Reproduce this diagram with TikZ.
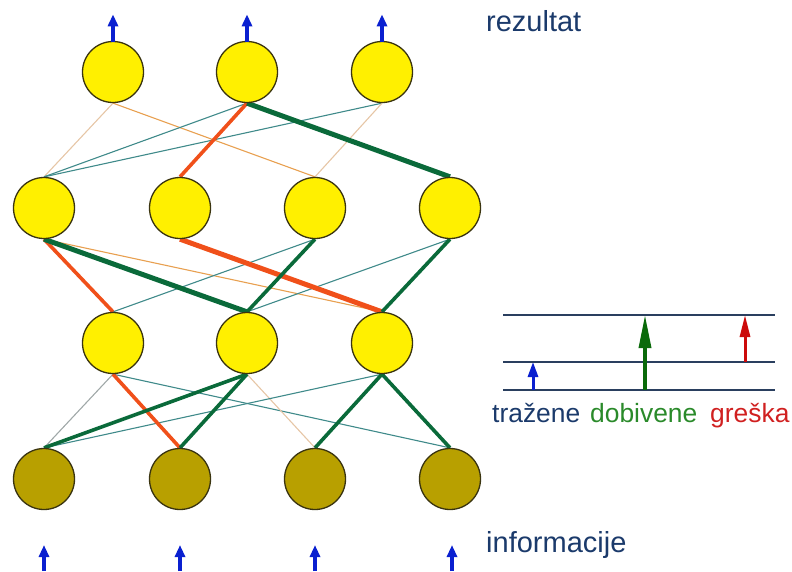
\documentclass[tikz,border=0pt]{standalone}
\usepackage{fontspec}
\setmainfont{Liberation Sans}
\usetikzlibrary{arrows.meta,backgrounds}

\definecolor{cellyellow}{HTML}{FFF000}
\definecolor{cellolive}{HTML}{B8A000}
\definecolor{cellrim}{HTML}{3A3410}
\definecolor{wred}{HTML}{F0501A}
\definecolor{wgreen}{HTML}{0A6A3A}
\definecolor{wteal}{HTML}{3F8A8A}
\definecolor{wtan}{HTML}{E6C6A6}
\definecolor{worange}{HTML}{E8A050}
\definecolor{wgrey}{HTML}{A0A8A8}
\definecolor{navy}{HTML}{1B3A6B}
\definecolor{rule}{HTML}{2A3F5F}
\definecolor{legblue}{HTML}{0A20D0}
\definecolor{leggreen}{HTML}{0A6A0A}
\definecolor{legred}{HTML}{CC0A0A}
\definecolor{txtgreen}{HTML}{2A8A2A}
\definecolor{txtred}{HTML}{D02020}

\tikzset{
  neuron/.style={circle, minimum size=61pt, inner sep=0pt, draw=cellrim, line width=1.3pt, fill=cellyellow},
  inneuron/.style={neuron, fill=cellolive},
  thin/.style={line width=1.1pt},
  midw/.style={line width=3.6pt},
  bigw/.style={line width=5pt},
  signal/.style={draw=legblue, line width=3.6pt, -{Triangle[length=12pt,width=10pt]}},
  label/.style={text=navy, font=\fontsize{29}{32}\selectfont, anchor=base west, inner sep=0pt},
  legtext/.style={font=\fontsize{26.4}{30}\selectfont, anchor=base west, inner sep=0pt},
  level/.style={draw=rule, line width=1.1pt},
}

\begin{document}
\begin{tikzpicture}[x=1pt, y=-1pt]
\useasboundingbox (0,0) rectangle (792,571);

% output layer
\node[neuron] (T1) at (113,72) {};
\node[neuron] (T2) at (247,72) {};
\node[neuron] (T3) at (382,72) {};
% first hidden layer
\node[neuron] (H1) at (44,208) {};
\node[neuron] (H2) at (180,208) {};
\node[neuron] (H3) at (315,208) {};
\node[neuron] (H4) at (450,208) {};
% second hidden layer
\node[neuron] (M1) at (113,343) {};
\node[neuron] (M2) at (247,343) {};
\node[neuron] (M3) at (382,343) {};
% input layer
\node[inneuron] (B1) at (44,479) {};
\node[inneuron] (B2) at (180,479) {};
\node[inneuron] (B3) at (315,479) {};
\node[inneuron] (B4) at (450,479) {};

\begin{scope}[on background layer]
  % output <- first hidden
  \draw[thin, wtan]    (T1.south) -- (H1.north);
  \draw[thin, worange] (T1.south) -- (H3.north);
  \draw[thin, wteal]   (T2.south) -- (H1.north);
  \draw[thin, wteal]   (T3.south) -- (H1.north);
  \draw[thin, wtan]    (T3.south) -- (H3.north);
  \draw[midw, wred]    (T2.south) -- (H2.north);
  \draw[bigw, wgreen]  (T2.south) -- (H4.north);
  % first hidden <- second hidden
  \draw[thin, worange] (H1.south) -- (M3.north);
  \draw[thin, wteal]   (H3.south) -- (M1.north);
  \draw[thin, wteal]   (H4.south) -- (M2.north);
  \draw[midw, wred]    (H1.south) -- (M1.north);
  \draw[bigw, wgreen]  (H1.south) -- (M2.north);
  \draw[bigw, wred]    (H2.south) -- (M3.north);
  \draw[midw, wgreen]  (H3.south) -- (M2.north);
  \draw[midw, wgreen]  (H4.south) -- (M3.north);
  % second hidden <- input
  \draw[thin, wgrey]   (M1.south) -- (B1.north);
  \draw[thin, wteal]   (M1.south) -- (B4.north);
  \draw[thin, wtan]    (M2.south) -- (B3.north);
  \draw[thin, wteal]   (M3.south) -- (B1.north);
  \draw[midw, wred]    (M1.south) -- (B2.north);
  \draw[midw, wgreen]  (M2.south) -- (B1.north);
  \draw[midw, wgreen]  (M2.south) -- (B2.north);
  \draw[midw, wgreen]  (M3.south) -- (B3.north);
  \draw[midw, wgreen]  (M3.south) -- (B4.north);
\end{scope}

% outgoing results
\foreach \n in {T1,T2,T3}
  \draw[signal] ([yshift=-1.5pt]\n.north) -- ++(0,-28);

% incoming information
\foreach \n/\x in {B1/44,B2/180,B3/315,B4/452} {
  \coordinate (src\n) at (\x,571);
  \draw[signal] (src\n) -- ++(0,-26);
}

\node[label] (res) at (486,31) {rezultat};
\node[label] (inf) at (486,552) {informacije};

% error legend
\coordinate (L1a) at (503,315); \coordinate (L1b) at (775,315);
\coordinate (L2a) at (503,362); \coordinate (L2b) at (775,362);
\coordinate (L3a) at (503,390); \coordinate (L3b) at (775,390);
\draw[level] (L1a) -- (L1b);
\draw[level] (L2a) -- (L2b);
\draw[level] (L3a) -- (L3b);

\coordinate (wantA) at (533,390); \coordinate (wantB) at (533,362);
\coordinate (gotA)  at (645,390); \coordinate (gotB)  at (645,315);
\coordinate (errA)  at (745,362); \coordinate (errB)  at (745,315);
\draw[legblue, line width=3pt, -{Triangle[length=15pt,width=10pt]}] (wantA) -- (wantB);
\draw[leggreen, line width=3.4pt, -{Triangle[length=33pt,width=12pt]}] (gotA) -- (gotB);
\draw[legred, line width=3pt, -{Triangle[length=22pt,width=10pt]}] (errA) -- (errB);

\node[legtext, text=navy]     (t1) at (492,422) {tražene};
\node[legtext, text=txtgreen] (t2) at (590,422) {dobivene};
\node[legtext, text=txtred]   (t3) at (710,422) {greška};
\end{tikzpicture}
\end{document}
